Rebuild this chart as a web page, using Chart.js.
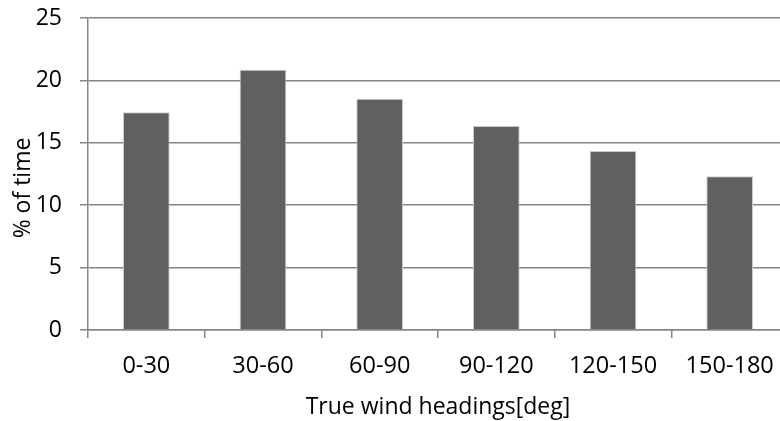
<!DOCTYPE html>
<html>
<head>
<meta charset="utf-8">
<script src="https://cdn.jsdelivr.net/npm/chart.js@4/dist/chart.umd.min.js"></script>
<style>
  html, body { margin: 0; padding: 0; background: #ffffff; overflow: hidden; }
  #wrap { position: relative; width: 792px; height: 421px; }
</style>
</head>
<body>
<div id="wrap"><canvas id="chart"></canvas></div>
<script>
// Share of time spent in each true wind heading sector
const headingSectors = ['0-30', '30-60', '60-90', '90-120', '120-150', '150-180'];
const timeShare = [17.45, 20.85, 18.53, 16.35, 14.34, 12.32];
const yTicks = [0, 5, 10, 15, 20, 25];

const xTitle = 'True wind headings[deg]';
const yTitle = '% of time';

const FONT = "'Open Sans', 'Liberation Sans', sans-serif";
const AXIS_GREY = '#868686';

// Vertical axis title, drawn a little below the middle of the plot area
const yTitlePlugin = {
  id: 'yTitle',
  afterDraw(chart) {
    const { ctx, chartArea } = chart;
    ctx.save();
    ctx.font = `23px ${FONT}`;
    ctx.fillStyle = '#000000';
    ctx.textAlign = 'center';
    ctx.textBaseline = 'middle';
    ctx.translate(23, (chartArea.top + chartArea.bottom) / 2 + 14);
    ctx.rotate(-Math.PI / 2);
    ctx.fillText(yTitle, 0, 0);
    ctx.restore();
  }
};

new Chart(document.getElementById('chart'), {
  type: 'bar',
  data: {
    labels: headingSectors,
    datasets: [{
      data: timeShare,
      backgroundColor: '#606060',
      borderColor: '#c9c9c9',
      borderWidth: 1,
      categoryPercentage: 1.0,
      barPercentage: 0.4
    }]
  },
  options: {
    responsive: true,
    maintainAspectRatio: false,
    animation: false,
    events: [],
    layout: { padding: { top: 18, right: 4, bottom: 0, left: 0 } },
    plugins: {
      legend: { display: false },
      tooltip: { enabled: false }
    },
    scales: {
      x: {
        offset: true,
        afterFit: (scale) => { scale.height = 91; },
        grid: {
          display: true,
          drawOnChartArea: false,
          drawTicks: true,
          tickLength: 8,
          color: AXIS_GREY,
          lineWidth: 1.5,
          offset: true
        },
        border: { display: true, color: AXIS_GREY, width: 1.5 },
        ticks: {
          color: '#000000',
          font: { family: FONT, size: 23.5 },
          padding: 14,
          maxRotation: 0
        },
        title: {
          display: true,
          text: xTitle,
          color: '#000000',
          font: { family: FONT, size: 23 },
          padding: { top: 0, bottom: 0 }
        }
      },
      y: {
        min: 0,
        max: 25,
        afterBuildTicks: (axis) => { axis.ticks = yTicks.map(v => ({ value: v })); },
        afterFit: (scale) => {
          scale.width = 88;
          scale.paddingTop = 0;
          scale.paddingBottom = 0;
        },
        grid: {
          color: AXIS_GREY,
          lineWidth: 1.5,
          drawTicks: true,
          tickLength: 8
        },
        border: { display: true, color: AXIS_GREY, width: 1.5 },
        ticks: {
          color: '#000000',
          font: { family: FONT, size: 23 },
          padding: 18
        },
        title: { display: false }
      }
    }
  },
  plugins: [yTitlePlugin]
});
</script>
</body>
</html>
